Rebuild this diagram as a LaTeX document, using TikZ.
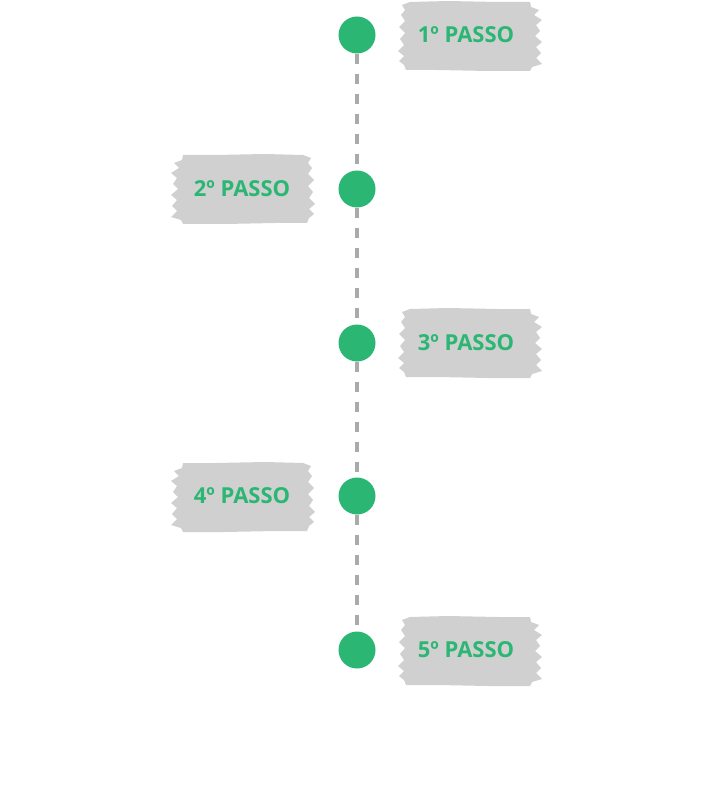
\documentclass[tikz,border=0pt]{standalone}
\usepackage{fontspec}
\setmainfont{Open Sans}
\usetikzlibrary{positioning}
\definecolor{passgreen}{HTML}{2BB673}
\definecolor{brushgray}{HTML}{D0D0D0}
\definecolor{linegray}{HTML}{AAAAAA}

\begin{document}
\begin{tikzpicture}[x=1pt,y=-1pt,
		dot/.style={circle,fill=passgreen,minimum size=37pt,inner sep=0pt},
		step text/.style={font=\bfseries\fontsize{22}{25}\selectfont,text=passgreen},
		link/.style={linegray,line width=3.5pt,dash pattern=on 10pt off 10pt},
		brush/.pic={\fill[brushgray] (-66,-31) -- (-58,-34) -- (-20,-35) -- (30,-34) -- (62,-34)
			-- (63,-29) -- (71,-26) -- (66,-21) -- (74,-16) -- (68,-11) -- (72,-5) -- (67,0)
			-- (74,6) -- (68,11) -- (73,17) -- (68,22) -- (74,28) -- (64,31) -- (62,35)
			-- (20,35) -- (-30,34) -- (-62,34) -- (-64,29) -- (-69,25) -- (-64,20) -- (-70,15)
			-- (-64,9) -- (-68,3) -- (-63,-3) -- (-69,-9) -- (-63,-15) -- (-67,-21) -- (-63,-26)
			-- cycle;}]

		\useasboundingbox (0,0) rectangle (720,786);

		% steps on the timeline
		\node[dot] (d1) at (357,35) {};
		\node[dot] (d2) at (357,189) {};
		\node[dot] (d3) at (357,343) {};
		\node[dot] (d4) at (357,496) {};
		\node[dot] (d5) at (357,650) {};

		\path[link] (d1) edge (d2) (d2) edge (d3) (d3) edge (d4) (d4) edge (d5);

		% brush labels
		\pic at (468,36) {brush};
		\pic[xscale=-1] at (245,189) {brush};
		\pic at (468,343) {brush};
		\pic[xscale=-1] at (245,497) {brush};
		\pic at (468,651) {brush};

		\node[step text] (p1) at (466,35) {1º PASSO};
		\node[step text] (p2) at (242,189) {2º PASSO};
		\node[step text] (p3) at (466,343) {3º PASSO};
		\node[step text] (p4) at (242,496) {4º PASSO};
		\node[step text] (p5) at (466,650) {5º PASSO};
	\end{tikzpicture}
\end{document}
